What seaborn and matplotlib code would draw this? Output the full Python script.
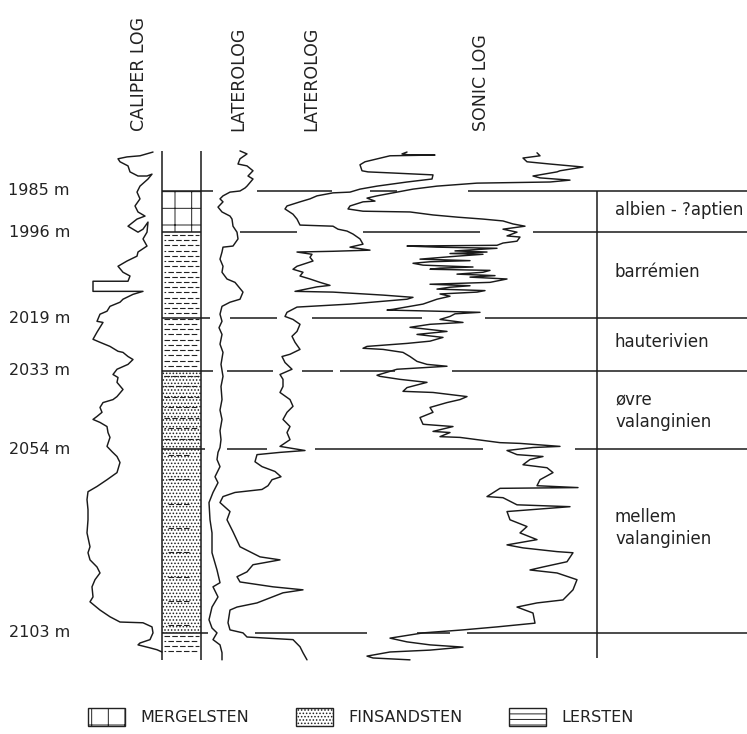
import numpy as np
import pandas as pd
import matplotlib.pyplot as plt
import seaborn as sns
from matplotlib.patches import Patch

# %% log traces: depth in m, reading as position across the sheet
caliper_depth = [1974.6, 1975.6, 1975.9, 1976.4, 1977.2, 1978.3, 1979.9, 1981.0, 1981.0, 1980.5,
                 1981.8, 1983.7, 1985.3, 1987.1, 1989.0, 1990.6, 1991.7, 1992.5, 1994.4, 1995.2,
                 1996.0, 1995.2, 1993.3, 1996.0, 1997.8, 1999.7, 2001.3, 2002.4, 2003.7, 2005.1,
                 2006.7, 2007.7, 2009.1, 2009.1, 2011.8, 2011.8, 2012.6, 2013.9, 2014.7, 2015.8,
                 2017.1, 2017.9, 2019.8, 2020.1, 2021.4, 2022.7, 2024.6, 2025.4, 2026.5, 2027.8,
                 2028.1, 2029.2, 2030.0, 2031.3, 2032.6, 2034.0, 2034.8, 2036.1, 2038.0, 2039.9,
                 2040.7, 2041.5, 2042.8, 2044.1, 2045.2, 2046.0, 2046.8, 2047.9, 2049.5, 2050.8,
                 2053.2, 2054.6, 2055.9, 2057.5, 2060.2, 2062.1, 2063.9, 2065.3, 2067.4, 2070.1,
                 2072.8, 2076.3, 2080.0, 2081.6, 2083.5, 2085.4, 2087.0, 2088.8, 2090.7, 2093.4,
                 2094.7, 2096.9, 2098.7, 2100.1, 2100.3, 2101.4, 2103.0, 2104.8, 2105.7, 2106.2,
                 2107.0, 2107.5, 2108.1]
caliper_x = [153, 140, 127, 118, 120, 128, 130, 138, 147, 152,
             148, 140, 137, 140, 135, 138, 145, 137, 128, 133,
             138, 143, 148, 147, 143, 147, 138, 137, 127, 118,
             123, 130, 128, 93, 93, 143, 133, 123, 120, 110,
             107, 100, 97, 103, 100, 97, 93, 100, 110, 118,
             123, 128, 133, 128, 117, 113, 118, 117, 123, 117,
             113, 103, 100, 102, 97, 93, 100, 107, 108, 110,
             107, 112, 117, 120, 117, 107, 97, 88, 87, 88,
             88, 87, 90, 88, 90, 97, 100, 95, 92, 93,
             90, 100, 110, 120, 143, 152, 153, 150, 140, 138,
             150, 157, 162]

latero1_depth = [1974.3, 1975.1, 1976.4, 1977.8, 1978.3, 1979.6, 1981.0, 1981.8, 1983.7, 1984.2,
                 1985.0, 1985.3, 1986.3, 1987.1, 1987.9, 1989.3, 1990.6, 1991.7, 1992.5, 1994.4,
                 1996.0, 1997.8, 1999.7, 2000.0, 2001.3, 2003.2, 2005.1, 2006.7, 2008.5, 2009.4,
                 2012.0, 2013.9, 2014.7, 2015.8, 2017.9, 2019.8, 2021.5, 2023.3, 2025.9, 2028.1,
                 2031.3, 2034.5, 2037.2, 2040.7, 2043.5, 2046.0, 2049.0, 2051.4, 2053.5, 2054.8,
                 2056.7, 2058.6, 2061.3, 2062.9, 2065.5, 2068.2, 2072.8, 2076.3, 2081.6, 2086.2,
                 2089.6, 2090.7, 2093.4, 2096.1, 2099.5, 2101.7, 2103.0, 2104.8, 2106.2, 2108.3,
                 2110.2]
latero1_x = [240, 247, 240, 238, 247, 253, 248, 253, 247, 245,
             240, 230, 223, 220, 223, 218, 222, 230, 232, 233,
             237, 238, 233, 223, 222, 220, 223, 222, 227, 235,
             243, 240, 230, 222, 220, 222, 219, 222, 220, 223,
             221, 223, 221, 222, 220, 222, 220, 221, 220, 218,
             217, 220, 215, 218, 213, 209, 210, 212, 212, 217,
             220, 213, 218, 212, 209, 212, 217, 213, 220, 222,
             222]

latero2_depth = [1974.6, 1975.1, 1975.4, 1975.4, 1975.6, 1977.2, 1978.0, 1979.6, 1979.9, 1980.2,
                 1980.7, 1981.8, 1982.6, 1983.7, 1984.5, 1985.3, 1985.5, 1986.3, 1987.1, 1987.9,
                 1989.0, 1989.8, 1991.2, 1992.5, 1994.1, 1994.4, 1995.2, 1995.7, 1996.5, 1997.8,
                 1999.2, 2000.0, 2000.8, 2001.1, 2001.3, 2001.9, 2002.7, 2003.7, 2005.1, 2005.9,
                 2006.7, 2007.7, 2008.5, 2009.4, 2010.2, 2010.6, 2011.8, 2012.0, 2012.8, 2013.4,
                 2013.9, 2015.2, 2016.0, 2017.4, 2018.5, 2019.3, 2020.6, 2022.5, 2023.8, 2025.4,
                 2027.3, 2028.6, 2029.2, 2030.8, 2032.6, 2034.0, 2035.3, 2037.2, 2038.8, 2040.7,
                 2042.5, 2044.1, 2046.0, 2047.9, 2049.5, 2051.4, 2053.2, 2054.3, 2054.8, 2055.4,
                 2057.3, 2058.6, 2059.9, 2061.3, 2062.1, 2063.7, 2064.7, 2065.5, 2066.6, 2068.2,
                 2070.6, 2072.8, 2076.0, 2080.0, 2082.7, 2083.5, 2084.8, 2086.7, 2088.0, 2089.4,
                 2090.7, 2091.5, 2092.3, 2095.0, 2096.1, 2096.9, 2100.3, 2102.2, 2103.0, 2104.1,
                 2104.8, 2106.7, 2108.3, 2110.2]
latero2_x = [407, 402, 410, 435, 390, 365, 360, 362, 368, 393,
             433, 432, 407, 377, 360, 350, 333, 317, 310, 300,
             287, 285, 293, 297, 300, 333, 338, 347, 353, 360,
             363, 350, 370, 333, 297, 312, 310, 313, 297, 293,
             303, 300, 310, 320, 330, 317, 295, 333, 383, 413,
             407, 350, 297, 287, 285, 293, 300, 297, 292, 295,
             300, 290, 282, 285, 292, 280, 283, 283, 280, 290,
             293, 287, 283, 290, 287, 290, 280, 305, 280, 257,
             255, 262, 275, 281, 272, 268, 262, 235, 223, 220,
             230, 227, 233, 240, 260, 280, 253, 247, 237, 240,
             273, 303, 283, 257, 237, 230, 228, 230, 243, 247,
             293, 300, 303, 307]

sonic_depth = [1974.8, 1975.6, 1976.2, 1977.2, 1977.8, 1978.6, 1979.6, 1979.9, 1981.0, 1981.5,
               1982.1, 1982.6, 1982.9, 1983.7, 1984.5, 1985.3, 1986.3, 1986.9, 1987.7, 1987.9,
               1989.0, 1989.8, 1990.4, 1990.6, 1991.4, 1992.0, 1992.5, 1993.0, 1993.8, 1994.4,
               1995.2, 1996.0, 1997.0, 1997.3, 1998.4, 1998.9, 1999.5, 1999.7, 2000.0, 2000.3,
               2001.0, 2001.3, 2001.7, 2001.9, 2002.4, 2003.2, 2003.6, 2003.9, 2004.3, 2004.8,
               2005.3, 2005.6, 2005.9, 2006.2, 2006.7, 2007.2, 2007.6, 2008.0, 2008.5, 2009.4,
               2009.9, 2010.3, 2010.7, 2011.2, 2011.6, 2012.0, 2012.5, 2013.1, 2013.9, 2015.2,
               2016.6, 2016.8, 2017.1, 2017.4, 2017.8, 2018.5, 2019.3, 2020.1, 2020.6, 2021.4,
               2022.5, 2023.3, 2024.1, 2025.1, 2025.7, 2026.5, 2027.0, 2027.3, 2028.1, 2029.2,
               2030.5, 2031.3, 2031.8, 2032.6, 2034.2, 2034.5, 2035.3, 2036.1, 2037.5, 2038.5,
               2038.8, 2039.9, 2040.7, 2041.5, 2042.8, 2044.1, 2045.5, 2047.3, 2047.9, 2049.2,
               2049.5, 2050.6, 2050.8, 2052.2, 2052.4, 2053.2, 2053.5, 2054.3, 2055.4, 2055.9,
               2056.7, 2058.1, 2058.9, 2060.2, 2062.1, 2063.7, 2064.2, 2064.4, 2066.6, 2066.9,
               2068.8, 2069.3, 2070.6, 2072.8, 2074.6, 2076.3, 2078.1, 2079.5, 2080.3, 2081.3,
               2081.6, 2084.0, 2085.4, 2086.2, 2087.0, 2088.8, 2091.5, 2094.2, 2095.0, 2096.1,
               2097.7, 2100.4, 2101.4, 2102.2, 2103.0, 2104.4, 2105.4, 2106.2, 2106.8, 2107.6,
               2108.1, 2109.2, 2109.7, 2110.2]
sonic_x = [537, 540, 523, 527, 550, 583, 560, 557, 533, 540,
           570, 550, 477, 437, 413, 397, 377, 367, 375, 363,
           350, 348, 363, 410, 433, 458, 483, 503, 513, 525,
           503, 517, 507, 520, 517, 503, 497, 407, 437, 497,
           455, 487, 450, 483, 457, 420, 470, 430, 413, 423,
           473, 440, 430, 490, 483, 457, 495, 470, 507, 490,
           430, 470, 450, 437, 485, 477, 440, 450, 437, 423,
           393, 387, 437, 480, 455, 450, 440, 463, 430, 410,
           447, 417, 443, 430, 407, 367, 363, 383, 403, 410,
           417, 427, 447, 397, 377, 380, 400, 427, 407, 403,
           433, 467, 460, 447, 430, 433, 420, 423, 453, 433,
           450, 440, 460, 500, 520, 560, 533, 507, 517, 543,
           530, 523, 547, 553, 540, 537, 578, 500, 487, 503,
           517, 570, 507, 510, 527, 520, 537, 507, 523, 557,
           573, 567, 543, 530, 557, 577, 573, 563, 537, 517,
           533, 535, 497, 463, 423, 390, 407, 430, 463, 430,
           390, 367, 373, 410]

# %% lithology column, boundaries, stages
litho_top = [1985, 1996, 2033, 2054, 2103]
litho_base = [1996, 2033, 2054, 2103, 2109.5]
litho_kind = ["MERGELSTEN", "LERSTEN", "FINSANDSTEN+LERSTEN", "FINSANDSTEN", "LERSTEN"]

boundary_depth = [1985, 1996, 2019, 2033, 2054, 2103]
boundary_label = ["1985 m", "1996 m", "2019 m", "2033 m", "2054 m", "2103 m"]

stage_names = ["albien - ?aptien", "barrémien", "hauterivien", "øvre\nvalanginien",
               "mellem\nvalanginien"]
stage_depth = [1990.2, 2006.5, 2025.4, 2043.8, 2075.0]

log_titles = ["CALIPER LOG", "LATEROLOG", "LATEROLOG", "SONIC LOG"]

legend_kinds = ["MERGELSTEN", "FINSANDSTEN", "LERSTEN"]

# %% layout (sheet units across, depth down)
title_pos = [139, 238, 311, 481]
COL_L, COL_R, STAGE_X = 162, 201, 597
# open stretches of each boundary line (gaps where the curves run)
boundary_segments = [
    [(162, 213), (257, 332), (370, 397), (468, 747)],
    [(162, 201), (240, 297), (363, 480), (533, 747)],
    [(162, 210), (230, 277), (312, 422), (485, 747)],
    [(162, 213), (227, 273), (302, 333), (340, 395), (452, 747)],
    [(162, 205), (227, 267), (315, 483), (575, 747)],
    [(162, 208), (255, 367), (417, 450), (467, 747)],
]
hatches = {"MERGELSTEN": "+", "FINSANDSTEN": ".....", "LERSTEN": "---"}
INK = "#1a1a1a"

sns.set_theme(style="white")
plt.rcParams["font.family"] = ["DejaVu Sans"]
plt.rcParams["hatch.linewidth"] = 0.7

fig = plt.figure(figsize=(7.47, 7.34), dpi=100)
ax = fig.add_axes([0, 0, 1, 1])
ax.set_xlim(0, 747)
ax.set_ylim(2130.0, 1934.0)
ax.axis("off")

logs = [(caliper_x, caliper_depth), (latero1_x, latero1_depth),
        (latero2_x, latero2_depth), (sonic_x, sonic_depth)]
for xs, ds in logs:
    sns.lineplot(x=xs, y=ds, orient="y", sort=False, estimator=None,
                 color=INK, lw=1.05, ax=ax)

# lithology column
for top, base, kind in zip(litho_top, litho_base, litho_kind):
    if kind == "MERGELSTEN":
        ax.fill_betweenx([top, base], COL_L, COL_R, facecolor="white",
                         edgecolor="#222222", hatch="+", lw=0)
    if "FINSANDSTEN" in kind:
        ax.fill_betweenx([top, base], COL_L, COL_R, facecolor="white",
                         edgecolor="#222222", hatch=".....", lw=0)
    if "LERSTEN" in kind:
        step = 1.4 if kind == "LERSTEN" else 2.8
        rows = np.arange(top + step / 2, base - 0.3, step)
        styles = [(0, (5, 2)) if i % 2 == 0 else (3.5, (5, 2)) for i in range(len(rows))]
        ax.hlines(rows, COL_L + 2, COL_R - 2, colors="#222222", lw=0.8, linestyles=styles)
    elif kind == "FINSANDSTEN":
        rows = np.arange(top + 1.5, base, 6.5)
        ax.hlines(rows, COL_L + 6, COL_R - 10, colors="#222222", lw=0.8,
                  linestyles=[(0, (5, 2))] * len(rows))

ax.vlines([COL_L, COL_R], 1974.3, 2110.2, colors=INK, lw=1.1)
ax.vlines(STAGE_X, 1985, 2109.7, colors=INK, lw=1.1)

for d, segs, lab in zip(boundary_depth, boundary_segments, boundary_label):
    for x0, x1 in segs:
        ax.hlines(d, x0, x1, colors=INK, lw=1.1)
    ax.text(70, d, lab, ha="right", va="center", fontsize=11.5, color="#222222")

for name, d in zip(stage_names, stage_depth):
    ax.text(615, d, name, ha="left", va="center", fontsize=12, color="#222222",
            linespacing=1.3)

for t, x in zip(log_titles, title_pos):
    ax.text(x, 1969.0, t, rotation=90, ha="center", va="bottom", fontsize=12.5,
            color="#222222")

handles = [Patch(facecolor="white", edgecolor="#222222", hatch=hatches[k], lw=1.0)
           for k in legend_kinds]
fig.legend(handles, legend_kinds, ncol=3, frameon=False, fontsize=11.5,
           loc="center left", bbox_to_anchor=(80 / 747, 1 - 717 / 734),
           borderpad=0, handlelength=2.3, handleheight=1.3, handletextpad=1.0,
           columnspacing=2.9, labelcolor="#222222")

fig.savefig("out.png", dpi=100)
